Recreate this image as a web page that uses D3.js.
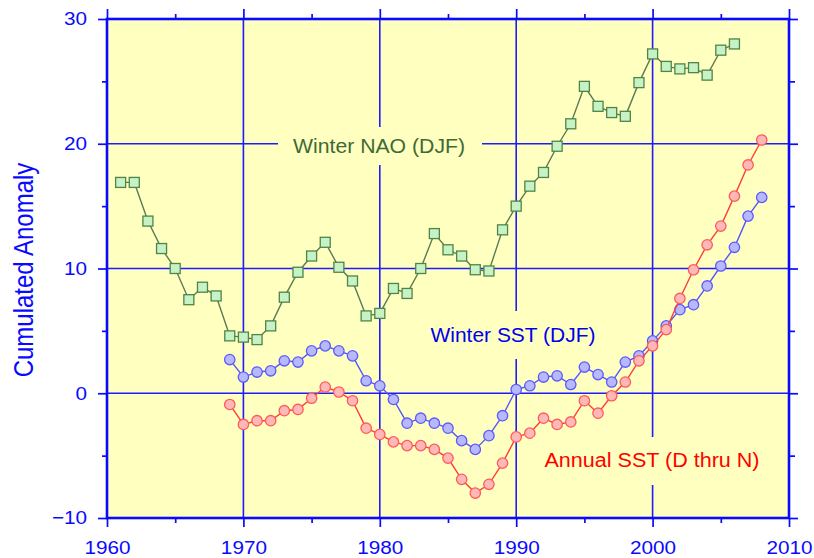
<!DOCTYPE html>
<html>
<head>
<meta charset="utf-8">
<script src="https://cdn.jsdelivr.net/npm/d3@7"></script>
<style>
  html, body { margin: 0; padding: 0; background: #ffffff; }
  svg { display: block; }
  text { font-family: "Liberation Sans", Arial, Helvetica, sans-serif; }
</style>
</head>
<body>
<svg id="chart" width="814" height="558"></svg>
<script>
// Cumulated anomalies by year
const naoYears = d3.range(1961, 2007);
const naoValues = [16.9, 16.9, 13.8, 11.6, 10.0, 7.5, 8.5, 7.8, 4.6, 4.5,
  4.3, 5.4, 7.7, 9.7, 11.0, 12.1, 10.1, 9.0, 6.2, 6.4,
  8.4, 8.0, 10.0, 12.8, 11.5, 11.0, 9.9, 9.8, 13.1, 15.0,
  16.6, 17.7, 19.8, 21.6, 24.6, 23.0, 22.5, 22.2, 24.9, 27.2,
  26.2, 26.0, 26.1, 25.5, 27.5, 28.0];

const sstYears = d3.range(1969, 2009);
const winterSst = [2.7, 1.3, 1.7, 1.8, 2.6, 2.5, 3.4, 3.8, 3.4, 3.0,
  1.0, 0.6, -0.5, -2.4, -2.0, -2.4, -2.8, -3.8, -4.5, -3.4,
  -1.8, 0.3, 0.6, 1.3, 1.4, 0.7, 2.1, 1.5, 0.9, 2.5,
  3.0, 4.2, 5.4, 6.7, 7.1, 8.6, 10.2, 11.7, 14.2, 15.7];
const annualSst = [-0.9, -2.5, -2.2, -2.2, -1.4, -1.3, -0.4, 0.5, 0.1, -0.6,
  -2.8, -3.3, -3.9, -4.2, -4.2, -4.5, -5.2, -6.9, -8.0, -7.3,
  -5.6, -3.5, -3.2, -2.0, -2.5, -2.3, -0.6, -1.6, -0.2, 0.9,
  2.6, 3.8, 5.1, 7.6, 9.9, 11.9, 13.4, 15.8, 18.3, 20.3];

const xMajor = [1960, 1970, 1980, 1990, 2000, 2010];
const xMinor = [1965, 1975, 1985, 1995, 2005];
const yMajor = [-10, 0, 10, 20, 30];
const yMinor = [-5, 5, 15, 25];
const xGrid = [1970, 1980, 1990, 2000];
const yGrid = [0, 10, 20];

const svg = d3.select("#chart");
const L = 107, R = 789, T = 19, B = 518;

const x = d3.scaleLinear().domain([1960, 2010]).range([L, R]);
const y = d3.scaleLinear().domain([-10, 30]).range([B, T]);

const axisBlue = "#0a0aff";
const gridBlue = "#1c1cff";

// plot background
svg.append("rect").attr("x", L).attr("y", T).attr("width", R - L).attr("height", B - T)
  .attr("fill", "#ffffc0");

// grid lines
const grid = svg.append("g").attr("stroke", gridBlue).attr("stroke-width", 1.6);
grid.selectAll("line.gx").data(xGrid).join("line").attr("class", "gx")
  .attr("x1", d => x(d)).attr("x2", d => x(d)).attr("y1", T).attr("y2", B);
grid.selectAll("line.gy").data(yGrid).join("line").attr("class", "gy")
  .attr("x1", L).attr("x2", R).attr("y1", d => y(d)).attr("y2", d => y(d));

// series
function drawSeries(years, values, opts) {
  const pts = years.map((yr, i) => [yr, values[i]]);
  const g = svg.append("g");
  g.append("path").datum(pts)
    .attr("fill", "none").attr("stroke", opts.line).attr("stroke-width", 1.4)
    .attr("d", d3.line().x(d => x(d[0])).y(d => y(d[1])));
  if (opts.shape === "square") {
    const s = 10;
    g.selectAll("rect").data(pts).join("rect")
      .attr("x", d => x(d[0]) - s / 2).attr("y", d => y(d[1]) - s / 2)
      .attr("width", s).attr("height", s)
      .attr("fill", opts.fill).attr("stroke", opts.stroke).attr("stroke-width", 1.3);
  } else {
    g.selectAll("circle").data(pts).join("circle")
      .attr("cx", d => x(d[0])).attr("cy", d => y(d[1])).attr("r", 5.2)
      .attr("fill", opts.fill).attr("stroke", opts.stroke).attr("stroke-width", 1.3);
  }
}

drawSeries(naoYears, naoValues, { shape: "square", line: "#5c7a52", fill: "#c6f2c6", stroke: "#4f8548" });
drawSeries(sstYears, winterSst, { shape: "circle", line: "#5555ff", fill: "#b8b8ff", stroke: "#5a5aff" });
drawSeries(sstYears, annualSst, { shape: "circle", line: "#ff3c3c", fill: "#ffb8b8", stroke: "#ff5a5a" });

// series labels on yellow boxes
const labels = [
  { text: "Winter NAO (DJF)", color: "#3d6b35", cx: 379, base: 153, size: 20, len: 172, box: [278, 127, 204, 38] },
  { text: "Winter SST (DJF)", color: "#0000ee", cx: 513, base: 342, size: 20, len: 165, box: [420, 311, 186, 48] },
  { text: "Annual SST (D thru N)", color: "#ff0000", cx: 652, base: 467, size: 20, len: 215, box: [533, 437, 238, 48] }
];
labels.forEach(l => {
  svg.append("rect").attr("x", l.box[0]).attr("y", l.box[1]).attr("width", l.box[2]).attr("height", l.box[3])
    .attr("fill", "#ffffc0");
  svg.append("text").attr("x", l.cx).attr("y", l.base).attr("text-anchor", "middle")
    .attr("font-size", l.size).attr("fill", l.color)
    .attr("textLength", l.len).attr("lengthAdjust", "spacingAndGlyphs")
    .text(l.text);
});

// axes
const fmt = d3.format("d");
function styleAxis(g) {
  g.select(".domain").remove();
  g.selectAll(".tick line").attr("stroke", axisBlue).attr("stroke-width", 1.7);
}

svg.append("g").attr("transform", `translate(0,${B})`)
  .call(d3.axisBottom(x).tickValues(xMajor).tickSize(9).tickPadding(14).tickFormat(fmt))
  .call(styleAxis)
  .call(g => g.selectAll(".tick text").attr("font-size", 18.5).attr("fill", axisBlue)
    .attr("font-family", "Liberation Sans, Arial, sans-serif")
    .attr("transform", "scale(1.12,1)"));
svg.append("g").attr("transform", `translate(0,${B})`)
  .call(d3.axisBottom(x).tickValues(xMinor).tickSize(5).tickFormat(""))
  .call(styleAxis);

svg.append("g").attr("transform", `translate(0,${T})`)
  .call(d3.axisTop(x).tickValues(xMajor).tickSize(10).tickFormat(""))
  .call(styleAxis);
svg.append("g").attr("transform", `translate(0,${T})`)
  .call(d3.axisTop(x).tickValues(xMinor).tickSize(5).tickFormat(""))
  .call(styleAxis);

svg.append("g").attr("transform", `translate(${L},0)`)
  .call(d3.axisLeft(y).tickValues(yMajor).tickSize(9).tickPadding(11).tickFormat(fmt))
  .call(styleAxis)
  .call(g => g.selectAll(".tick text").attr("font-size", 18.5).attr("fill", axisBlue)
    .attr("font-family", "Liberation Sans, Arial, sans-serif")
    .attr("x", -20 / 1.12).attr("transform", "scale(1.12,1)"));
svg.append("g").attr("transform", `translate(${L},0)`)
  .call(d3.axisLeft(y).tickValues(yMinor).tickSize(5).tickFormat(""))
  .call(styleAxis);

svg.append("g").attr("transform", `translate(${R},0)`)
  .call(d3.axisRight(y).tickValues(yMajor).tickSize(9).tickFormat(""))
  .call(styleAxis);
svg.append("g").attr("transform", `translate(${R},0)`)
  .call(d3.axisRight(y).tickValues(yMinor).tickSize(6).tickFormat(""))
  .call(styleAxis);

// frame
svg.append("rect").attr("x", L).attr("y", T).attr("width", R - L).attr("height", B - T)
  .attr("fill", "none").attr("stroke", axisBlue).attr("stroke-width", 2.6);

// y-axis title
svg.append("text")
  .attr("transform", "translate(33,270) scale(1.12,1) rotate(-90)")
  .attr("text-anchor", "middle").attr("font-size", 24).attr("fill", axisBlue)
  .text("Cumulated Anomaly");
</script>
</body>
</html>
